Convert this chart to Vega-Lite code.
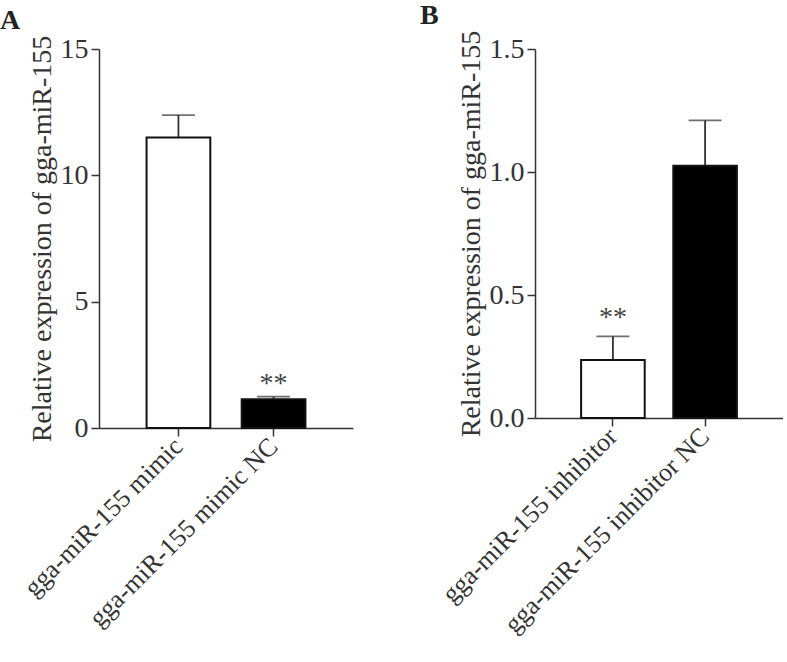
{
  "$schema": "https://vega.github.io/schema/vega-lite/v6.json",
  "padding": {"left": 0, "top": 2, "right": 0, "bottom": 0},
  "autosize": {"type": "pad"},
  "bounds": "flush",
  "background": "white",
  "config": {
    "view": {"stroke": null},
    "font": "Liberation Serif",
    "axis": {
      "domainColor": "#333",
      "domainWidth": 1.5,
      "tickColor": "#333",
      "tickWidth": 1.5,
      "tickSize": 8,
      "labelFont": "Liberation Serif",
      "labelFontSize": 28,
      "labelColor": "#333",
      "labelLimit": 500,
      "titleFont": "Liberation Serif",
      "titleFontSize": 28,
      "titleFontWeight": "normal",
      "titleColor": "#333",
      "grid": false
    },
    "title": {"font": "Liberation Serif", "fontSize": 28, "fontWeight": "bold", "color": "#222", "anchor": "start", "frame": "group"}
  },
  "datasets": {
    "a": [
      {"group": "gga-miR-155 mimic", "value": 11.5, "upper": 12.38, "sig": "", "fill": "white"},
      {"group": "gga-miR-155 mimic NC", "value": 1.14, "upper": 1.24, "sig": "**", "fill": "black"}
    ],
    "b": [
      {"group": "gga-miR-155 inhibitor", "value": 0.236, "upper": 0.332, "sig": "**", "fill": "white"},
      {"group": "gga-miR-155 inhibitor NC", "value": 1.025, "upper": 1.21, "sig": "", "fill": "black"}
    ]
  },
  "hconcat": [
    {
      "title": {"text": "A", "dx": -99, "offset": 0},
      "width": 254,
      "height": 379,
      "data": {"name": "a"},
      "layer": [
        {
          "mark": {"type": "rule", "color": "#333", "strokeWidth": 1.8},
          "encoding": {
            "x": {"field": "group", "type": "nominal", "sort": null},
            "y": {"field": "value", "type": "quantitative"},
            "y2": {"field": "upper"}
          }
        },
        {
          "mark": {"type": "tick", "color": "#333", "thickness": 1.8, "size": 33, "orient": "horizontal"},
          "encoding": {
            "x": {"field": "group", "type": "nominal", "sort": null},
            "y": {"field": "upper", "type": "quantitative"}
          }
        },
        {
          "mark": {"type": "bar", "stroke": "#111", "strokeWidth": 2},
          "encoding": {
            "x": {"field": "group", "type": "nominal", "sort": null,
                  "scale": {"paddingInner": 0.33, "paddingOuter": 0.5},
                  "axis": {"title": null, "labelAngle": -45, "labelPadding": 6, "labelFontSize": 26}},
            "y": {"field": "value", "type": "quantitative",
                  "scale": {"domain": [0, 15], "nice": false},
                  "axis": {"values": [0, 5, 10, 15], "title": "Relative expression of gga-miR-155", "titlePadding": 4, "labelPadding": 3}},
            "fill": {"field": "fill", "type": "nominal", "scale": null}
          }
        },
        {
          "mark": {"type": "text", "baseline": "bottom", "dy": 1, "fontSize": 28, "color": "#444"},
          "encoding": {
            "x": {"field": "group", "type": "nominal", "sort": null},
            "y": {"field": "upper", "type": "quantitative"},
            "text": {"field": "sig"}
          }
        }
      ]
    },
    {
      "title": {"text": "B", "dx": -115, "offset": 0},
      "width": 248,
      "height": 369,
      "data": {"name": "b"},
      "layer": [
        {
          "mark": {"type": "rule", "color": "#333", "strokeWidth": 1.8},
          "encoding": {
            "x": {"field": "group", "type": "nominal", "sort": null},
            "y": {"field": "value", "type": "quantitative"},
            "y2": {"field": "upper"}
          }
        },
        {
          "mark": {"type": "tick", "color": "#333", "thickness": 1.8, "size": 33, "orient": "horizontal"},
          "encoding": {
            "x": {"field": "group", "type": "nominal", "sort": null},
            "y": {"field": "upper", "type": "quantitative"}
          }
        },
        {
          "mark": {"type": "bar", "stroke": "#111", "strokeWidth": 2},
          "encoding": {
            "x": {"field": "group", "type": "nominal", "sort": null,
                  "scale": {"paddingInner": 0.31, "paddingOuter": 0.5},
                  "axis": {"title": null, "labelAngle": -45, "labelPadding": 6, "labelFontSize": 26}},
            "y": {"field": "value", "type": "quantitative",
                  "scale": {"domain": [0, 1.5], "nice": false},
                  "axis": {"values": [0, 0.5, 1, 1.5], "format": ".1f", "title": "Relative expression of gga-miR-155", "titlePadding": 4, "labelPadding": 3}},
            "fill": {"field": "fill", "type": "nominal", "scale": null}
          }
        },
        {
          "mark": {"type": "text", "baseline": "bottom", "dy": -4, "fontSize": 28, "color": "#444"},
          "encoding": {
            "x": {"field": "group", "type": "nominal", "sort": null},
            "y": {"field": "upper", "type": "quantitative"},
            "text": {"field": "sig"}
          }
        }
      ]
    }
  ],
  "spacing": 182
}
